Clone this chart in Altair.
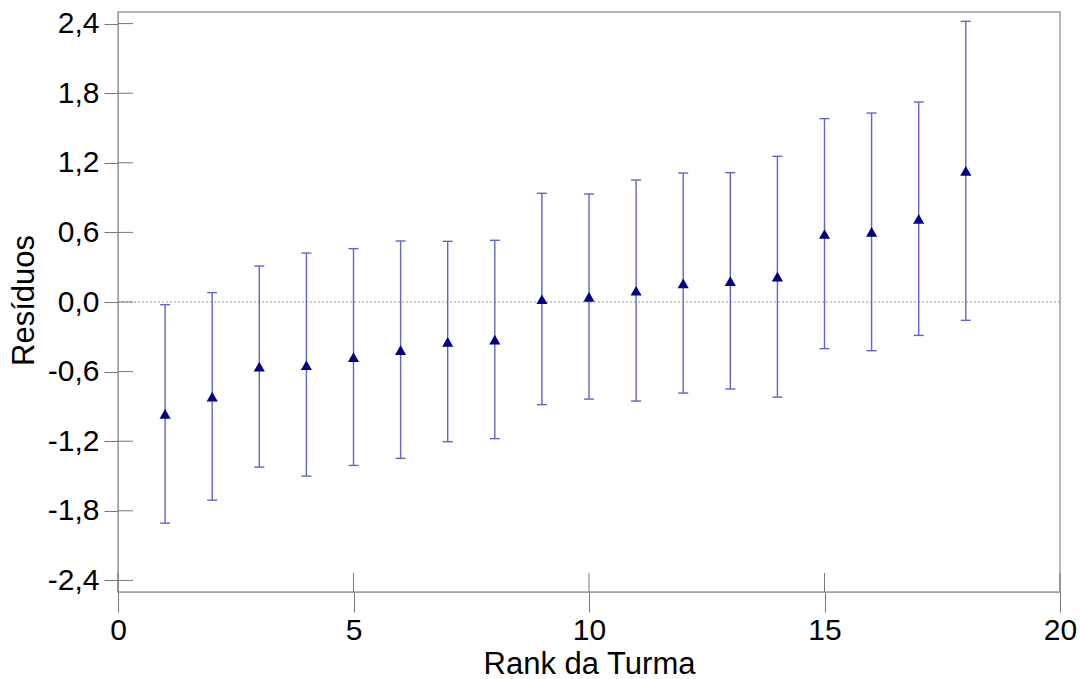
import altair as alt
import pandas as pd

# Data
rank = list(range(1, 19))
residuo = [-0.965, -0.815, -0.557, -0.545, -0.475, -0.415, -0.343, -0.324, 0.024,
           0.044, 0.097, 0.160, 0.180, 0.218, 0.586, 0.604, 0.716, 1.130]
inferior = [-1.906, -1.708, -1.423, -1.501, -1.409, -1.348, -1.204, -1.178, -0.885,
            -0.837, -0.854, -0.785, -0.750, -0.820, -0.402, -0.420, -0.288, -0.158]
superior = [-0.023, 0.081, 0.310, 0.422, 0.460, 0.526, 0.523, 0.532, 0.937,
            0.931, 1.052, 1.112, 1.115, 1.256, 1.581, 1.629, 1.724, 2.420]

x_ticks = [0, 5, 10, 15, 20]
y_ticks = [-2.4, -1.8, -1.2, -0.6, 0.0, 0.6, 1.2, 1.8, 2.4]

df = pd.DataFrame({"rank": rank, "res": residuo, "lo": inferior, "hi": superior})
dfx = pd.DataFrame({"t": x_ticks})
dfy = pd.DataFrame({"t": y_ticks})
dfz = pd.DataFrame({"z": [0.0]})

W, H = 942, 580
FONT = "Liberation Sans"
GRAY = "#a0a0a0"
TICK = "#777777"
BAR = "#6464c8"

xscale = alt.Scale(domain=[0, 20], nice=False, zero=False)
yscale = alt.Scale(domain=[-2.5, 2.5], nice=False, zero=False)

xaxis = alt.Axis(values=x_ticks, title="Rank da Turma", grid=False, format="d",
                 labelFont=FONT, labelFontSize=30, labelColor="black",
                 titleFont=FONT, titleFontSize=31, titleFontWeight="normal", titleColor="black",
                 titleBaseline="alphabetic", titleY=81, titleX=W / 2,
                 tickSize=20, tickColor=TICK, domainColor=GRAY, labelPadding=3,
                 labelFlush=False, labelOverlap=False)
yaxis = alt.Axis(values=y_ticks, title="Resíduos", grid=False,
                 labelExpr="replace(replace(format(datum.value, '.1f'), '.', ','), '\u2212', '-')",
                 labelFont=FONT, labelFontSize=30, labelColor="black",
                 titleFont=FONT, titleFontSize=31, titleFontWeight="normal", titleColor="black",
                 titleAngle=-90, titleBaseline="alphabetic", titleAlign="center",
                 titleX=-85, titleY=288,
                 tickSize=14, tickColor=TICK, domainColor=GRAY, labelPadding=5,
                 labelFlush=False, labelOverlap=False)

base = alt.Chart(df)

zero = alt.Chart(dfz).mark_rule(color="#999999", strokeDash=[2, 2], strokeWidth=1).encode(
    y=alt.Y("z:Q", scale=yscale, axis=yaxis)
)

bars = base.mark_rule(color=BAR, strokeWidth=1.4).encode(
    x=alt.X("rank:Q", scale=xscale, axis=xaxis),
    y=alt.Y("lo:Q", scale=yscale, axis=yaxis),
    y2="hi:Q",
)

cap_hi = base.mark_rule(color=BAR, strokeWidth=1.4, xOffset=-5, x2Offset=5).encode(
    x=alt.X("rank:Q", scale=xscale), x2="rank:Q",
    y=alt.Y("hi:Q", scale=yscale),
)
cap_lo = base.mark_rule(color=BAR, strokeWidth=1.4, xOffset=-5, x2Offset=5).encode(
    x=alt.X("rank:Q", scale=xscale), x2="rank:Q",
    y=alt.Y("lo:Q", scale=yscale),
)

pts = base.mark_point(shape="triangle-up", filled=True, color="#000080", size=125, opacity=1).encode(
    x=alt.X("rank:Q", scale=xscale),
    y=alt.Y("res:Q", scale=yscale),
)

ytick_in = alt.Chart(dfy).mark_rule(color=TICK, strokeWidth=1).encode(
    x=alt.value(0), x2=alt.value(15),
    y=alt.Y("t:Q", scale=yscale),
)
xtick_in = alt.Chart(dfx).mark_rule(color=TICK, strokeWidth=1).encode(
    x=alt.X("t:Q", scale=xscale),
    y=alt.value(H), y2=alt.value(H - 19),
)

chart = alt.layer(zero, bars, cap_hi, cap_lo, pts, ytick_in, xtick_in).properties(
    width=W, height=H,
    autosize=alt.AutoSizeParams(type="none"),
    padding={"left": 118, "top": 12, "right": 20, "bottom": 87},
    background="white",
).configure_view(stroke=GRAY, strokeWidth=1.5)

chart.save("out.html", embed_options={"renderer": "svg", "actions": False})
